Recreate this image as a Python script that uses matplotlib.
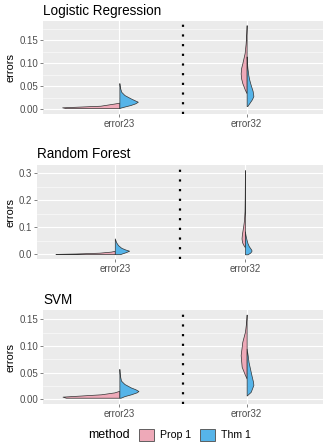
import matplotlib
matplotlib.use('Agg')
import matplotlib.pyplot as plt
from matplotlib.patches import Patch
from matplotlib.ticker import MultipleLocator

plt.rcParams['font.family'] = ['Liberation Sans', 'DejaVu Sans']

# ---- data: half-violin outlines (y value, half width in category units) ----
categories = ['error23', 'error32']
methods = ['Prop 1', 'Thm 1']
titles = ['Logistic Regression', 'Random Forest', 'SVM']

lr23_prop_y = [0.0025, 0.0043, 0.0078, 0.013, 0.0145]
lr23_prop_w = [0.42, 0.45, 0.15, 0.03, 0.0]
lr23_thm_y = [0.003, 0.006, 0.0093, 0.013, 0.0165, 0.019, 0.024, 0.031, 0.038, 0.047, 0.057]
lr23_thm_w = [0.0, 0.04, 0.087, 0.125, 0.145, 0.125, 0.087, 0.04, 0.015, 0.005, 0.0]
lr32_prop_y = [0.035, 0.042, 0.057, 0.068, 0.078, 0.09, 0.1, 0.122, 0.143, 0.165, 0.183]
lr32_prop_w = [0.0, 0.013, 0.034, 0.044, 0.047, 0.043, 0.034, 0.016, 0.008, 0.003, 0.0]
lr32_thm_y = [0.007, 0.015, 0.022, 0.029, 0.04, 0.053, 0.065, 0.075, 0.09, 0.1, 0.115]
lr32_thm_w = [0.005, 0.025, 0.042, 0.053, 0.047, 0.032, 0.02, 0.013, 0.006, 0.003, 0.0]

rf23_prop_y = [0.0008, 0.0015, 0.003, 0.006, 0.010, 0.013]
rf23_prop_w = [0.40, 0.456, 0.30, 0.12, 0.03, 0.0]
rf23_thm_y = [0.0005, 0.004, 0.008, 0.0133, 0.018, 0.024, 0.034, 0.045, 0.059]
rf23_thm_w = [0.04, 0.06, 0.085, 0.11, 0.08, 0.05, 0.025, 0.01, 0.0]
rf32_prop_y = [0.026, 0.035, 0.045, 0.059, 0.075, 0.09, 0.105, 0.127, 0.16, 0.21, 0.26, 0.312]
rf32_prop_w = [0.0, 0.012, 0.022, 0.026, 0.023, 0.018, 0.013, 0.007, 0.003, 0.0015, 0.0008, 0.0]
rf32_thm_y = [0.0, 0.006, 0.012, 0.016, 0.022, 0.03, 0.041, 0.055, 0.07, 0.085]
rf32_thm_w = [0.02, 0.04, 0.05, 0.05, 0.042, 0.03, 0.02, 0.012, 0.005, 0.0]

svm23_prop_y = [0.003, 0.005, 0.0094, 0.013, 0.016]
svm23_prop_w = [0.42, 0.447, 0.144, 0.039, 0.0]
svm23_thm_y = [0.003, 0.006, 0.0094, 0.013, 0.0156, 0.019, 0.022, 0.0287, 0.035, 0.045, 0.057]
svm23_thm_w = [0.01, 0.04, 0.092, 0.135, 0.15, 0.125, 0.092, 0.04, 0.013, 0.004, 0.0]
svm32_prop_y = [0.039, 0.0456, 0.061, 0.083, 0.108, 0.127, 0.145, 0.159]
svm32_prop_w = [0.0, 0.013, 0.039, 0.047, 0.034, 0.013, 0.004, 0.0]
svm32_thm_y = [0.007, 0.014, 0.027, 0.033, 0.045, 0.058, 0.07, 0.083, 0.095]
svm32_thm_w = [0.0, 0.032, 0.053, 0.05, 0.038, 0.026, 0.015, 0.008, 0.0]

panels = [
    dict(title=titles[0], violins=[(lr23_prop_y, lr23_prop_w, lr23_thm_y, lr23_thm_w),
                                   (lr32_prop_y, lr32_prop_w, lr32_thm_y, lr32_thm_w)],
         ylim=(-0.0102, 0.192), ticks=[0.0, 0.05, 0.10, 0.15], fmt='{:.2f}', minor=0.025,
         box=[43, 21, 323, 114]),
    dict(title=titles[1], violins=[(rf23_prop_y, rf23_prop_w, rf23_thm_y, rf23_thm_w),
                                   (rf32_prop_y, rf32_prop_w, rf32_thm_y, rf32_thm_w)],
         ylim=(-0.0174, 0.331), ticks=[0.0, 0.1, 0.2, 0.3], fmt='{:.1f}', minor=0.05,
         box=[36.7, 165, 323, 259]),
    dict(title=titles[2], violins=[(svm23_prop_y, svm23_prop_w, svm23_thm_y, svm23_thm_w),
                                   (svm32_prop_y, svm32_prop_w, svm32_thm_y, svm32_thm_w)],
         ylim=(-0.0088, 0.1675), ticks=[0.0, 0.05, 0.10, 0.15], fmt='{:.2f}', minor=0.025,
         box=[43, 310, 323, 404]),
]

PINK = '#EEA9B8'
BLUE = '#56B4E9'
W, H = 327, 446

fig = plt.figure(figsize=(W/72, H/72), dpi=72)

for p in panels:
    l, t, r, b = p['box']
    ax = fig.add_axes([l/W, 1-b/H, (r-l)/W, (b-t)/H])
    ax.set_facecolor('#EBEBEB')
    for s in ax.spines.values():
        s.set_visible(False)
    ax.set_xlim(0.4, 2.6)
    ax.set_ylim(*p['ylim'])
    ax.set_yticks(p['ticks'])
    ax.set_yticklabels([p['fmt'].format(v) for v in p['ticks']])
    ax.yaxis.set_minor_locator(MultipleLocator(p['minor']))
    ax.set_xticks([1, 2])
    ax.set_xticklabels(categories)
    ax.grid(True, which='major', color='white', linewidth=1.1)
    ax.grid(True, which='minor', axis='y', color='white', linewidth=0.55)
    ax.set_axisbelow(True)
    ax.tick_params(which='major', length=2.75, width=0.6, color='#333333',
                   labelcolor='#4D4D4D', labelsize=9.8, pad=2.2)
    ax.tick_params(which='minor', length=0)

    for i, (py, pw, ty, tw) in enumerate(p['violins']):
        x0 = i + 1
        ax.fill_betweenx(py, [x0 - w for w in pw], x0, facecolor=PINK,
                         edgecolor='#333333', linewidth=0.7, zorder=3)
        ax.fill_betweenx(ty, x0, [x0 + w for w in tw], facecolor=BLUE,
                         edgecolor='#333333', linewidth=0.7, zorder=3)

    ax.axvline(1.5, color='black', linewidth=2.2, linestyle=(0, (1, 3.4)),
               dash_capstyle='butt', zorder=4)

    fig.text(l/W, 1-(t-6.5)/H, p['title'], fontsize=13.5, ha='left', va='baseline')
    fig.text(10/W, 1-((t+b)/2)/H, 'errors', rotation=90, fontsize=11,
             ha='center', va='center')

# legend at bottom
fig.text(88/W, 1-435/H, 'method', fontsize=12.5, ha='left', va='center')
handles = [Patch(facecolor=PINK, edgecolor='#555555', linewidth=0.9, label=methods[0]),
           Patch(facecolor=BLUE, edgecolor='#555555', linewidth=0.9, label=methods[1])]
fig.legend(handles=handles, loc='center left', bbox_to_anchor=(139/W, 1-435/H),
           ncol=2, frameon=False, fontsize=10.5, handlelength=1.45, handleheight=1.4,
           handletextpad=0.55, columnspacing=0.85, borderaxespad=0, borderpad=0)

fig.savefig('out.png', dpi=72)
